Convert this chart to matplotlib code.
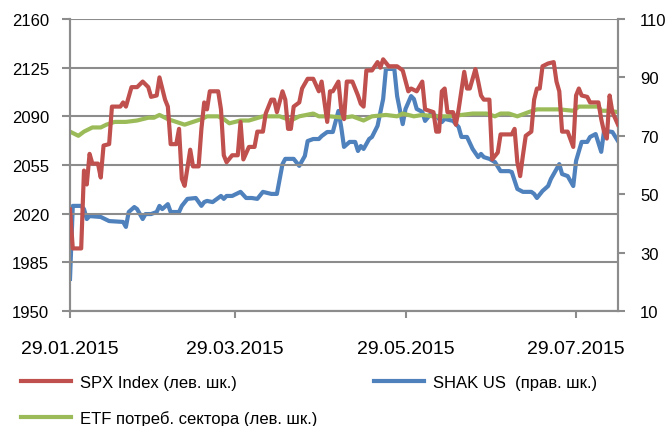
import matplotlib
matplotlib.use("Agg")
import matplotlib.pyplot as plt
import matplotlib.dates as mdates
import pandas as pd

plt.rcParams['font.family'] = ['Liberation Sans', 'DejaVu Sans']

# SPX Index (left scale)
spx_dates = ['2015-01-29', '2015-01-30', '2015-02-02', '2015-02-03', '2015-02-04', '2015-02-05',
             '2015-02-06', '2015-02-08', '2015-02-09', '2015-02-10', '2015-02-12', '2015-02-13',
             '2015-02-16', '2015-02-17', '2015-02-18', '2015-02-20', '2015-02-22', '2015-02-24',
             '2015-02-26', '2015-02-27', '2015-03-01', '2015-03-02', '2015-03-04', '2015-03-05',
             '2015-03-06', '2015-03-08', '2015-03-09', '2015-03-10', '2015-03-11', '2015-03-13',
             '2015-03-14', '2015-03-16', '2015-03-17', '2015-03-18', '2015-03-19', '2015-03-20',
             '2015-03-23', '2015-03-24', '2015-03-25', '2015-03-26', '2015-03-28', '2015-03-30',
             '2015-03-31', '2015-04-01', '2015-04-03', '2015-04-05', '2015-04-06', '2015-04-08',
             '2015-04-09', '2015-04-11', '2015-04-12', '2015-04-13', '2015-04-15', '2015-04-16',
             '2015-04-17', '2015-04-18', '2015-04-19', '2015-04-21', '2015-04-22', '2015-04-24',
             '2015-04-26', '2015-04-28', '2015-04-29', '2015-05-01', '2015-05-02', '2015-05-03',
             '2015-05-05', '2015-05-06', '2015-05-07', '2015-05-08', '2015-05-10', '2015-05-12',
             '2015-05-13', '2015-05-14', '2015-05-15', '2015-05-17', '2015-05-19', '2015-05-20',
             '2015-05-21', '2015-05-23', '2015-05-26', '2015-05-28', '2015-05-30', '2015-05-31',
             '2015-06-02', '2015-06-04', '2015-06-05', '2015-06-08', '2015-06-09', '2015-06-10',
             '2015-06-11', '2015-06-12', '2015-06-13', '2015-06-15', '2015-06-16', '2015-06-17',
             '2015-06-19', '2015-06-20', '2015-06-21', '2015-06-23', '2015-06-24', '2015-06-25',
             '2015-06-26', '2015-06-28', '2015-06-29', '2015-07-01', '2015-07-02', '2015-07-04',
             '2015-07-06', '2015-07-07', '2015-07-08', '2015-07-09', '2015-07-10', '2015-07-11',
             '2015-07-13', '2015-07-14', '2015-07-15', '2015-07-16', '2015-07-17', '2015-07-19',
             '2015-07-21', '2015-07-22', '2015-07-23', '2015-07-24', '2015-07-26', '2015-07-28',
             '2015-07-29', '2015-07-30', '2015-07-31', '2015-08-02', '2015-08-03', '2015-08-06',
             '2015-08-07', '2015-08-08', '2015-08-09', '2015-08-10', '2015-08-11', '2015-08-13']
spx_values = [2023, 1995, 1995, 2051, 2041, 2063,
              2056, 2056, 2046, 2069, 2070, 2097,
              2097, 2100, 2097, 2111, 2111, 2115,
              2111, 2104, 2105, 2118, 2102, 2097,
              2070, 2070, 2081, 2045, 2040, 2066,
              2054, 2054, 2081, 2100, 2095, 2108,
              2108, 2095, 2062, 2057, 2062, 2062,
              2086, 2059, 2068, 2068, 2079, 2079,
              2092, 2102, 2102, 2093, 2108, 2102,
              2081, 2081, 2097, 2100, 2110, 2117,
              2117, 2108, 2115, 2086, 2108, 2108,
              2115, 2095, 2088, 2115, 2115, 2105,
              2099, 2097, 2123, 2123, 2129, 2125,
              2131, 2126, 2126, 2123, 2108, 2110,
              2108, 2115, 2095, 2093, 2079, 2079,
              2108, 2110, 2093, 2093, 2084, 2095,
              2122, 2110, 2110, 2124, 2115, 2105,
              2102, 2102, 2059, 2064, 2077, 2077,
              2077, 2081, 2057, 2047, 2062, 2076,
              2079, 2102, 2110, 2110, 2126, 2128,
              2129, 2115, 2108, 2079, 2079, 2068,
              2105, 2110, 2105, 2104, 2100, 2100,
              2088, 2079, 2074, 2105, 2093, 2084]

# SHAK US (right scale)
shak_dates = ['2015-01-29', '2015-01-30', '2015-02-02', '2015-02-03', '2015-02-04', '2015-02-05',
              '2015-02-09', '2015-02-12', '2015-02-17', '2015-02-18', '2015-02-19', '2015-02-21',
              '2015-02-22', '2015-02-24', '2015-02-25', '2015-02-27', '2015-03-01', '2015-03-02',
              '2015-03-03', '2015-03-05', '2015-03-06', '2015-03-09', '2015-03-10', '2015-03-12',
              '2015-03-15', '2015-03-17', '2015-03-18', '2015-03-19', '2015-03-21', '2015-03-24',
              '2015-03-25', '2015-03-26', '2015-03-28', '2015-03-31', '2015-04-02', '2015-04-04',
              '2015-04-06', '2015-04-08', '2015-04-11', '2015-04-13', '2015-04-15', '2015-04-16',
              '2015-04-19', '2015-04-21', '2015-04-23', '2015-04-24', '2015-04-26', '2015-04-28',
              '2015-04-29', '2015-05-01', '2015-05-03', '2015-05-05', '2015-05-06', '2015-05-07',
              '2015-05-09', '2015-05-11', '2015-05-12', '2015-05-13', '2015-05-14', '2015-05-16',
              '2015-05-17', '2015-05-19', '2015-05-21', '2015-05-22', '2015-05-25', '2015-05-26',
              '2015-05-28', '2015-05-29', '2015-05-31', '2015-06-01', '2015-06-02', '2015-06-04',
              '2015-06-05', '2015-06-07', '2015-06-09', '2015-06-11', '2015-06-12', '2015-06-15',
              '2015-06-17', '2015-06-18', '2015-06-20', '2015-06-22', '2015-06-24', '2015-06-25',
              '2015-06-26', '2015-06-28', '2015-06-30', '2015-07-02', '2015-07-05', '2015-07-06',
              '2015-07-08', '2015-07-10', '2015-07-13', '2015-07-14', '2015-07-15', '2015-07-17',
              '2015-07-19', '2015-07-20', '2015-07-22', '2015-07-23', '2015-07-24', '2015-07-26',
              '2015-07-28', '2015-07-29', '2015-07-31', '2015-08-02', '2015-08-03', '2015-08-05',
              '2015-08-07', '2015-08-08', '2015-08-09', '2015-08-11', '2015-08-13']
shak_values = [21.0, 46.0, 46.0, 44.9, 41.5, 42.5,
               42.2, 40.8, 40.5, 38.8, 43.9, 45.6,
               44.9, 41.5, 43.2, 43.2, 43.9, 46.0,
               44.9, 46.6, 43.9, 43.9, 46.0, 48.4,
               48.7, 46.0, 47.3, 47.7, 47.3, 49.4,
               48.4, 49.4, 49.4, 50.8, 48.7, 48.7,
               48.4, 50.8, 50.1, 50.1, 60.3, 62.1,
               62.1, 59.7, 63.1, 68.2, 68.9, 68.9,
               69.9, 71.3, 71.3, 78.5, 73.0, 66.2,
               67.9, 67.9, 64.8, 66.5, 65.5, 68.9,
               69.6, 73.4, 82.6, 92.9, 92.9, 83.6,
               74.0, 79.2, 83.6, 82.6, 79.2, 78.2,
               75.1, 77.5, 76.8, 74.7, 75.8, 75.1,
               73.0, 69.6, 69.6, 65.5, 62.7, 63.8,
               62.7, 62.1, 61.0, 57.9, 57.9, 57.6,
               51.8, 50.8, 50.8, 50.1, 48.7, 51.1,
               52.8, 55.2, 58.6, 60.3, 56.9, 56.2,
               52.8, 61.4, 67.9, 67.9, 69.6, 70.6,
               64.5, 71.6, 71.6, 71.3, 68.2]

# ETF consumer sector (left scale)
etf_dates = ['2015-01-29', '2015-02-01', '2015-02-03', '2015-02-06', '2015-02-09', '2015-02-11',
             '2015-02-14', '2015-02-18', '2015-02-22', '2015-02-26', '2015-02-28', '2015-03-02',
             '2015-03-05', '2015-03-08', '2015-03-11', '2015-03-14', '2015-03-17', '2015-03-19',
             '2015-03-23', '2015-03-25', '2015-03-27', '2015-03-31', '2015-04-03', '2015-04-08',
             '2015-04-14', '2015-04-18', '2015-04-21', '2015-04-26', '2015-04-28', '2015-05-02',
             '2015-05-07', '2015-05-10', '2015-05-14', '2015-05-17', '2015-05-22', '2015-05-26',
             '2015-05-28', '2015-06-01', '2015-06-04', '2015-06-08', '2015-06-13', '2015-06-18',
             '2015-06-22', '2015-06-27', '2015-06-30', '2015-07-02', '2015-07-05', '2015-07-08',
             '2015-07-12', '2015-07-15', '2015-07-19', '2015-07-23', '2015-07-28', '2015-07-30',
             '2015-08-03', '2015-08-06', '2015-08-07', '2015-08-10', '2015-08-13']
etf_values = [2079, 2076, 2079, 2082, 2082, 2084,
              2086, 2086, 2087, 2089, 2089, 2091,
              2088, 2086, 2084, 2086, 2088, 2090,
              2090, 2088, 2085, 2087, 2087, 2090,
              2090, 2087, 2090, 2092, 2090, 2090,
              2089, 2090, 2087, 2090, 2091, 2090,
              2092, 2090, 2091, 2090, 2090, 2091,
              2092, 2092, 2090, 2092, 2092, 2090,
              2093, 2095, 2095, 2095, 2094, 2097,
              2097, 2097, 2094, 2094, 2093]

left_ticks = [1950, 1985, 2020, 2055, 2090, 2125, 2160]
right_ticks = [10, 30, 50, 70, 90, 110]
date_ticks = ['2015-01-29', '2015-03-29', '2015-05-29', '2015-07-29']

RED = '#C0504D'
BLUE = '#4F81BD'
GREEN = '#9BBB59'
GRID = '#8C8C8C'

fig = plt.figure(figsize=(6.7, 4.27), dpi=100)
ax = fig.add_axes([70 / 670, 1 - 312 / 427, 548 / 670, 292 / 427])
ax2 = ax.twinx()

l_spx, = ax.plot(pd.to_datetime(spx_dates), spx_values, color=RED, lw=3, solid_joinstyle='round', zorder=3)
l_etf, = ax.plot(pd.to_datetime(etf_dates), etf_values, color=GREEN, lw=3, solid_joinstyle='round', zorder=2)
l_shak, = ax2.plot(pd.to_datetime(shak_dates), shak_values, color=BLUE, lw=3, solid_joinstyle='round')

ax.set_xlim(pd.Timestamp('2015-01-29'), pd.Timestamp('2015-08-13'))
ax.set_ylim(1950, 2160)
ax2.set_ylim(10, 110)
ax.set_yticks(left_ticks)
ax2.set_yticks(right_ticks)
ax.set_xticks(pd.to_datetime(date_ticks))
ax.xaxis.set_major_formatter(mdates.DateFormatter('%d.%m.%Y'))

ax.grid(axis='y', color=GRID, lw=1.5)
ax.set_axisbelow(True)
ax2.set_zorder(ax.get_zorder() - 1)
ax.patch.set_visible(False)

for a in (ax, ax2):
    for s in a.spines.values():
        s.set_color(GRID)
        s.set_linewidth(1.5)
    a.spines['top'].set_visible(False)
ax.tick_params(axis='y', length=6, width=1.5, color=GRID, labelsize=12, pad=9)
ax.tick_params(axis='x', length=5, width=1.5, color=GRID, labelsize=14, pad=16)
ax2.tick_params(axis='y', length=5, width=1.5, color=GRID, labelsize=12, pad=11)

fig.legend([l_spx, l_etf, l_shak],
           ['SPX Index (лев. шк.)', 'ETF потреб. сектора (лев. шк.)', 'SHAK US  (прав. шк.)'],
           loc='upper left', bbox_to_anchor=(0.031, 0.119), ncol=2, frameon=False,
           fontsize=12, handlelength=3.0, handletextpad=0.55, columnspacing=3.4,
           labelspacing=1.2, borderaxespad=0, borderpad=0)

fig.savefig('out.png', dpi=100)
